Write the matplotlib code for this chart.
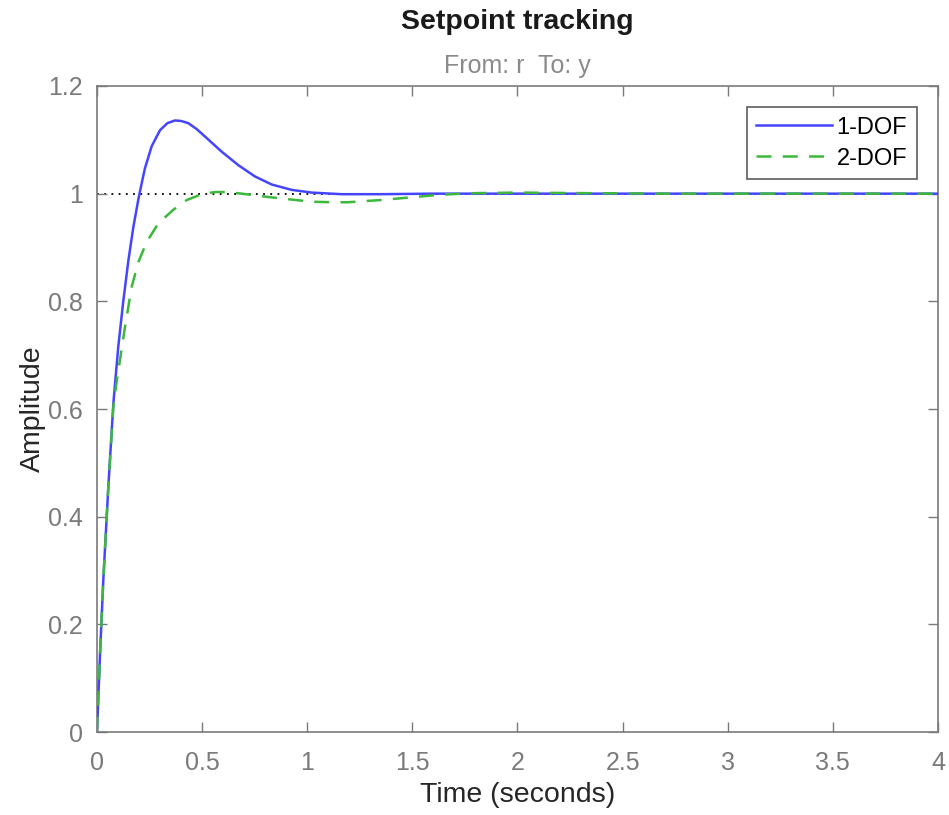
import matplotlib
matplotlib.use('Agg')
import matplotlib.pyplot as plt

plt.rcParams['font.family'] = ['Liberation Sans', 'DejaVu Sans']

# step responses
t_1dof = [0, 0.015, 0.03, 0.054, 0.078, 0.101, 0.125, 0.149, 0.173, 0.197, 0.213, 0.228,
          0.26, 0.30, 0.335, 0.371, 0.40, 0.434, 0.474, 0.514, 0.593, 0.672, 0.751,
          0.831, 0.926, 1.021, 1.164, 1.35, 1.6, 2.0, 3.0, 4.0]
y_1dof = [0, 0.15, 0.282, 0.456, 0.611, 0.715, 0.80, 0.875, 0.938, 0.99, 1.02, 1.047,
          1.088, 1.118, 1.131, 1.136, 1.135, 1.131, 1.12, 1.106, 1.078, 1.053, 1.032,
          1.017, 1.007, 1.002, 0.999, 0.999, 1.0, 1.0, 1.0, 1.0]

t_2dof = [0, 0.015, 0.03, 0.054, 0.078, 0.095, 0.109, 0.133, 0.165, 0.197, 0.236, 0.292,
          0.363, 0.426, 0.498, 0.56, 0.62, 0.688, 0.831, 1.021, 1.13, 1.19, 1.345, 1.49,
          1.63, 1.8, 2.0, 2.3, 2.7, 3.0, 4.0]
y_2dof = [0, 0.15, 0.282, 0.456, 0.605, 0.655, 0.69, 0.752, 0.827, 0.873, 0.91, 0.945,
          0.97, 0.988, 0.999, 1.003, 1.003, 1.0, 0.993, 0.985, 0.984, 0.984, 0.988, 0.993,
          0.998, 1.001, 1.002, 1.001, 1.0, 1.0, 1.0]

xticks = [0, 0.5, 1, 1.5, 2, 2.5, 3, 3.5, 4]
xticklabels = ['0', '0.5', '1', '1.5', '2', '2.5', '3', '3.5', '4']
yticks = [0, 0.2, 0.4, 0.6, 0.8, 1, 1.2]
yticklabels = ['0', '0.2', '0.4', '0.6', '0.8', '1', '1.2']

fig = plt.figure(figsize=(9.49, 8.15), dpi=100)
ax = fig.add_axes([0.1022, 0.1018, 0.8862, 0.7927])

ax.axhline(1.0, color='black', linestyle=(0, (1, 3)), linewidth=1.3, zorder=1)
ax.plot(t_1dof, y_1dof, color='#4545ff', linewidth=1.8, label='1-DOF', zorder=3)
ax.plot(t_2dof, y_2dof, color='#3cb83c', linewidth=1.8, linestyle=(0, (6, 4.5)),
        label='2-DOF', zorder=4)

ax.set_xlim(0, 4)
ax.set_ylim(0, 1.2)
ax.set_xticks(xticks)
ax.set_xticklabels(xticklabels)
ax.set_yticks(yticks)
ax.set_yticklabels(yticklabels)
ax.tick_params(direction='in', length=7, width=1, colors='#7a7a7a', labelsize=18,
               top=True, right=True, pad=10)
ax.tick_params(axis='x', pad=14)
for s in ax.spines.values():
    s.set_color('#7a7a7a')
    s.set_linewidth(1.2)

ax.set_xlabel('Time (seconds)', fontsize=20.5, color='#262626', labelpad=5)
ax.set_ylabel('Amplitude', fontsize=20.5, color='#262626', labelpad=1.5)

fig.text(0.5453, 0.973, 'Setpoint tracking', ha='center', va='center',
         fontsize=20.5, fontweight='bold', color='#1a1a1a')
fig.text(0.5453, 0.919, 'From: r  To: y', ha='center', va='center',
         fontsize=18, color='#8a8a8a')

leg = ax.legend(loc='upper right', fontsize=17, frameon=True, fancybox=False,
                handlelength=3.2, borderaxespad=0.9, handletextpad=0.2,
                borderpad=0.4, labelspacing=0.38)
leg.get_frame().set_edgecolor('#333333')
leg.get_frame().set_linewidth(1.2)

fig.savefig('out.png', dpi=100)
